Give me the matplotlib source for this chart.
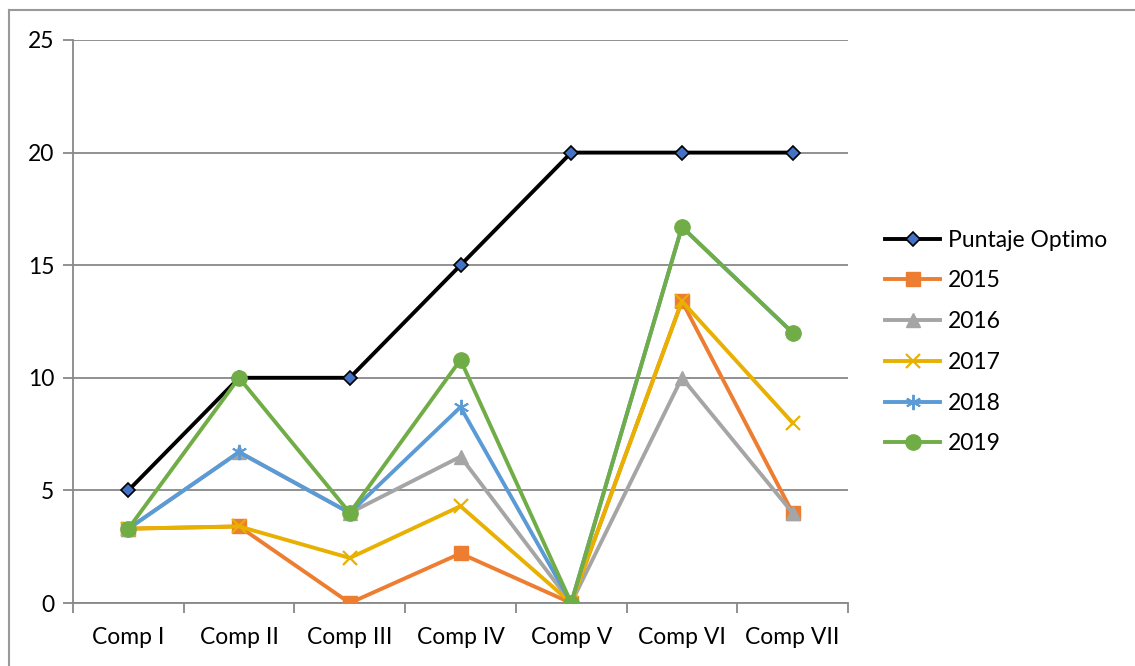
import matplotlib
matplotlib.use("Agg")
import matplotlib.pyplot as plt
from matplotlib.lines import Line2D
import numpy as np

categories = ["Comp I", "Comp II", "Comp III", "Comp IV", "Comp V", "Comp VI", "Comp VII"]
optimo = [5, 10, 10, 15, 20, 20, 20]
s2015 = [3.3, 3.4, 0, 2.2, 0, 13.4, 4]
s2016 = [3.3, 6.7, 4, 6.5, 0, 10, 4]
s2017 = [3.3, 3.4, 2, 4.3, 0, 13.4, 8]
s2018 = [3.3, 6.7, 4, 8.7, 0, 16.7, 12]
s2019 = [3.3, 10, 4, 10.8, 0, 16.7, 12]
yticks = [0, 5, 10, 15, 20, 25]

plt.rcParams['font.family'] = ['Lato', 'DejaVu Sans']

fig = plt.figure(figsize=(11.35, 6.66), dpi=100)
ax = fig.add_axes([73/1135, 1-603/666, (848-73)/1135, (603-40)/666])

x = np.arange(len(categories))
lw = 2.8
ax.plot(x, optimo, color='black', lw=lw, marker='D', ms=7.5, mfc='#4472C4', mec='black', mew=1.2,
        label='Puntaje Optimo', zorder=3)
ax.plot(x, s2015, color='#ED7D31', lw=lw, marker='s', ms=10, mfc='#ED7D31', mec='#ED7D31',
        label='2015', zorder=3)
ax.plot(x, s2016, color='#A5A5A5', lw=lw, marker='^', ms=10.5, mfc='#A5A5A5', mec='#A5A5A5',
        label='2016', zorder=3)
ax.plot(x, s2017, color='#E8B000', lw=lw, marker='x', ms=10, mew=1.6, label='2017', zorder=3)
ax.plot(x, s2018, color='#5B9BD5', lw=lw, marker=(6, 2, 0), ms=11, mew=1.4, label='2018', zorder=3)
ax.plot(x, s2019, color='#70AD47', lw=lw, marker='o', ms=11, mfc='#70AD47', mec='#70AD47',
        label='2019', zorder=3)

ax.set_xlim(-0.5, len(categories) - 0.5)
ax.set_ylim(0, 25)
ax.set_yticks(yticks)
ax.set_xticks(x)
ax.set_xticklabels(categories)
ax.set_xticks(np.arange(-0.5, len(categories)), minor=True)
ax.tick_params(axis='x', which='major', length=0, pad=17, labelsize=16.5)
ax.tick_params(axis='x', which='minor', length=7.5, width=1.3, color='#888888', direction='out')
ax.tick_params(axis='y', length=7.5, width=1.3, color='#888888', direction='out', pad=6, labelsize=16.5)
for lab in ax.get_xticklabels() + ax.get_yticklabels():
    lab.set_color('black')

ax.grid(axis='y', color='#888888', lw=1.3, zorder=0)
ax.set_axisbelow(True)
for sp in ['top', 'right']:
    ax.spines[sp].set_visible(False)
for sp in ['left', 'bottom']:
    ax.spines[sp].set_color('#888888')
    ax.spines[sp].set_linewidth(1.3)

leg = ax.legend(loc='center left', bbox_to_anchor=(885/1135, 1-342/666), bbox_transform=fig.transFigure,
                frameon=False, fontsize=16.5, handlelength=2.4, labelspacing=0.86, handletextpad=0.35,
                borderpad=0, borderaxespad=0)

# outer border (top & left visible)
fig.add_artist(Line2D([9/1135, 1], [1-10/666, 1-10/666], transform=fig.transFigure, color='#999999', lw=1.5))
fig.add_artist(Line2D([9/1135, 9/1135], [0, 1-10/666], transform=fig.transFigure, color='#999999', lw=1.5))

fig.savefig('out.png', dpi=100)
